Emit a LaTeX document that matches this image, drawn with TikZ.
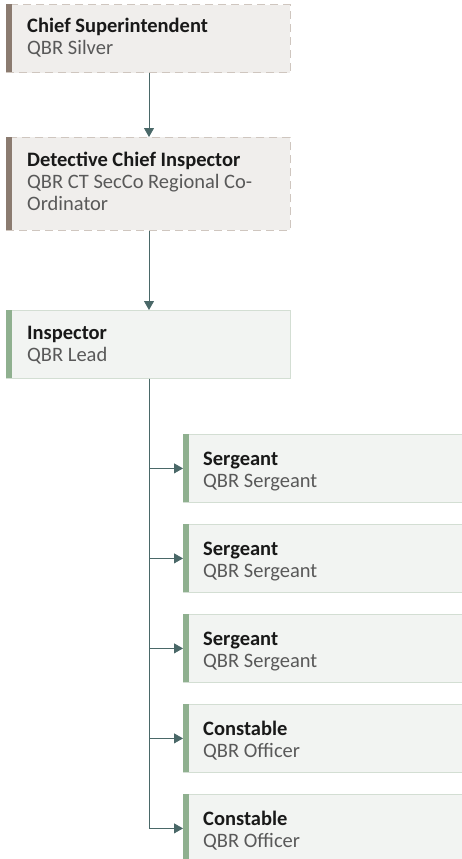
\documentclass[tikz,border=0pt]{standalone}
\usepackage{fontspec}
\setmainfont{Carlito}
\usetikzlibrary{arrows.meta}
\definecolor{barbrown}{HTML}{8B7B70}
\definecolor{bargreen}{HTML}{8FB08F}
\definecolor{fillwarm}{HTML}{F0EEEC}
\definecolor{edgewarm}{HTML}{CFC6BF}
\definecolor{fillcool}{HTML}{F2F4F2}
\definecolor{edgecool}{HTML}{D3DED3}
\definecolor{linkcol}{HTML}{4A6868}
\definecolor{subcol}{HTML}{595959}
\tikzset{
  senior/.style={draw=edgewarm, fill=fillwarm, dash pattern=on 8pt off 5pt, line width=0.8pt,
    rectangle, inner sep=0pt, anchor=north west},
  junior/.style={draw=edgecool, fill=fillcool, line width=0.8pt,
    rectangle, inner sep=0pt, anchor=north west},
  rank/.style={anchor=base west, inner sep=0pt, font=\fontsize{20.5}{22}\selectfont\bfseries, text=black!90},
  role/.style={anchor=base west, inner sep=0pt, font=\fontsize{20.5}{22}\selectfont, text=subcol},
  link/.style={draw=linkcol, line width=0.8pt, -{Triangle[length=9pt,width=10pt]}},
}
\begin{document}
\begin{tikzpicture}[x=1pt,y=-1pt]
\useasboundingbox (0,0) rectangle (461,859);

% upper command boxes
\node[senior, minimum width=284pt, minimum height=68pt] (cs) at (6,4.5) {};
\fill[barbrown] (6,4.5) rectangle (12,72.5);
\node[rank] (csr) at (27,33) {Chief Superintendent};
\node[role] (csq) at (27,55) {QBR Silver};

\node[senior, minimum width=284pt, minimum height=93pt] (dci) at (6,137) {};
\fill[barbrown] (6,137) rectangle (12,230);
\node[rank] (dcir) at (27,166.5) {Detective Chief Inspector};
\node[role] (dciq) at (27,188.5) {QBR CT SecCo Regional Co-};
\node[role] (dciq2) at (27,210.5) {Ordinator};

\node[junior, minimum width=284pt, minimum height=68pt] (insp) at (6,310) {};
\fill[bargreen] (6,310) rectangle (12,378);
\node[rank] (inspr) at (27,339) {Inspector};
\node[role] (inspq) at (27,361) {QBR Lead};

% team boxes
\foreach \i/\r/\q in {1/Sergeant/QBR Sergeant, 2/Sergeant/QBR Sergeant, 3/Sergeant/QBR Sergeant,
                      4/Constable/QBR Officer, 5/Constable/QBR Officer}{
  \pgfmathsetmacro{\top}{434+90*(\i-1)}
  \node[junior, minimum width=290pt, minimum height=68pt] (t\i) at (183,\top) {};
  \fill[bargreen] (183,\top) rectangle (189,\top+68);
  \node[rank] (t\i r) at (203,\top+31) {\r};
  \node[role] (t\i q) at (203,\top+53) {\q};
}

% reporting lines
\draw[link] (cs.south -| 149,0) -- (dci.north -| 149,0);
\draw[link] (dci.south -| 149,0) -- (insp.north -| 149,0);
\coordinate (trunk) at (149,0);
\foreach \i in {1,...,5}{
  \draw[link] (insp.south -| trunk) |- (t\i.west);
}
\end{tikzpicture}
\end{document}
